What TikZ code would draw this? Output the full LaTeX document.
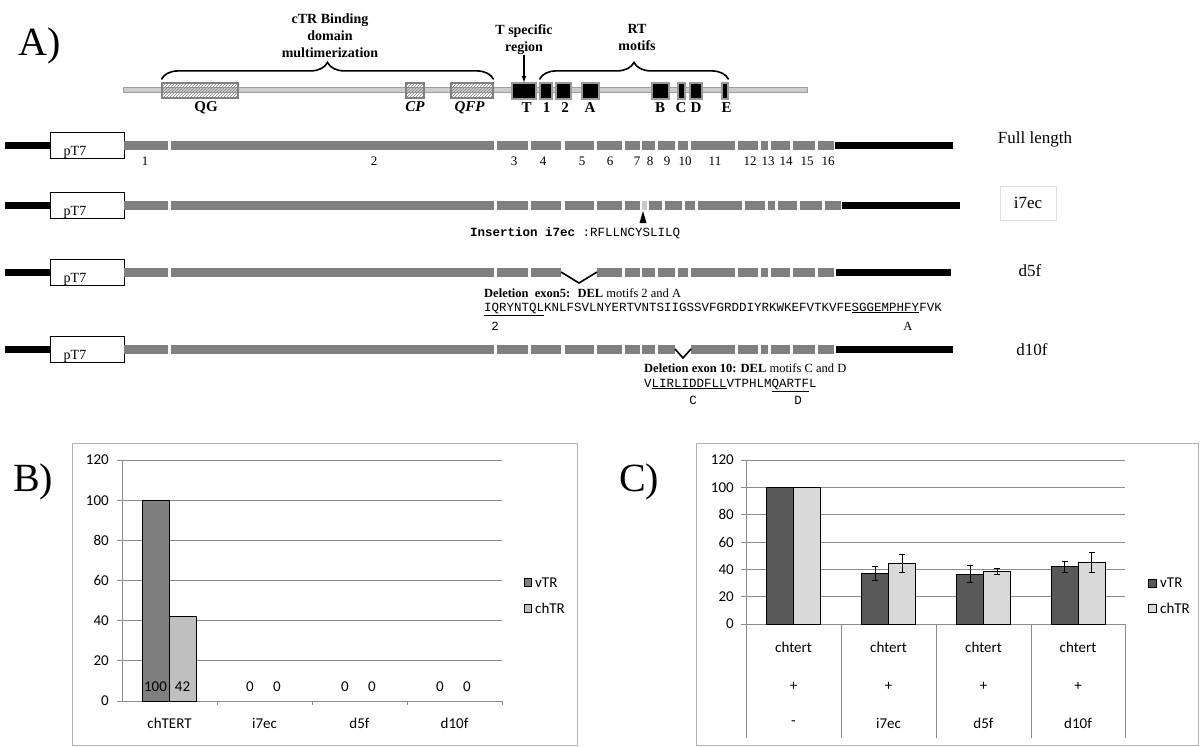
\documentclass[tikz,border=0pt]{standalone}
\usepackage{fontspec}
\setmainfont{Liberation Serif}
\setmonofont{Liberation Mono}
\newfontfamily\chartfont{Carlito}
\usetikzlibrary{patterns,decorations.pathreplacing}

\definecolor{exongray}{RGB}{128,128,128}
\definecolor{insgray}{RGB}{200,200,200}
\definecolor{barmid}{RGB}{127,127,127}
\definecolor{barlight}{RGB}{191,191,191}
\definecolor{bardark}{RGB}{89,89,89}
\definecolor{barpale}{RGB}{217,217,217}
\definecolor{gridgray}{RGB}{140,140,140}

\tikzset{
  hbox/.style={draw=gray, line width=1.2pt, fill=white, pattern=north east lines, pattern color=gray, minimum height=15pt, inner sep=0pt},
  mbox/.style={draw=gray!80, line width=1.2pt, fill=black, minimum height=16pt, inner sep=0pt},
  dlbl/.style={font=\fontsize{15}{17}\selectfont\bfseries, inner sep=0pt, anchor=base},
  toplbl/.style={font=\fontsize{14}{17}\selectfont\bfseries, align=center, inner sep=0pt},
  brc/.style={decorate, decoration={brace, amplitude=17pt}, line width=1.6pt},
  pbox/.style={draw, line width=1pt, fill=white, minimum width=74pt, minimum height=26pt, inner sep=0pt},
  ptxt/.style={font=\fontsize{14}{16}\selectfont, inner sep=0pt, anchor=base},
  exnum/.style={font=\fontsize{13}{15}\selectfont, inner sep=0pt, anchor=base},
  rowlbl/.style={font=\fontsize{17}{20}\selectfont, inner sep=0pt},
  note/.style={font=\fontsize{12.5}{14}\selectfont, inner sep=0pt, anchor=base west},
  seq/.style={font=\fontsize{12.5}{14}\selectfont\ttfamily, inner sep=0pt, anchor=base west},
  vline/.style={line width=1.6pt},
  panel/.style={font=\fontsize{40}{44}\selectfont, inner sep=0pt},
  chart/.style={font=\chartfont\fontsize{15}{17}\selectfont, inner sep=0pt},
  barline/.style={draw=black, line width=1pt},
  errbar/.style={line width=1pt},
  grid/.style={gridgray, line width=1pt}
}

\begin{document}
\begin{tikzpicture}[x=1pt,y=-1pt]
\useasboundingbox (0,0) rectangle (1200,747);

%% A) protein domains
\node[panel] (pa) at (40,46) {A)};
\draw[gray!75, fill=gray!40, line width=0.8pt] (123,87.5) rectangle (807,92.5);
\foreach \nm/\cx/\w in {qg/200/76pt, cp/415/18pt, qfp/472/42pt}
  \node[hbox, minimum width=\w] (\nm) at (\cx,90.5) {};
\foreach \nm/\cx/\w in {mT/524/24pt, m1/546/12pt, m2/563.5/15pt, mA/590.5/17pt, mB/660.5/17pt, mC/681.5/7pt, mD/696/12pt, mE/725/6pt}
  \node[mbox, minimum width=\w] (\nm) at (\cx,91) {};
\node[dlbl] (lqg) at (206,111) {QG};
\node[dlbl] (lcp) at (415,111) {\itshape CP};
\node[dlbl] (lqfp) at (469.5,111) {\itshape QFP};
\foreach \nm/\cx/\t in {lT/526.5/T, l1/546.5/1, l2/565/2, lA/590/A, lB/660/B, lC/681/C, lD/696/D, lE/726.5/E}
  \node[dlbl] (\nm) at (\cx,112) {\t};

\draw[brc] ([yshift=3pt]qg.north west) -- ([yshift=3pt]qfp.north east);
\draw[brc] ([yshift=3pt]m1.north west) -- ([yshift=3pt]mE.north east);
\node[toplbl] (ctr) at (330,36) {cTR Binding\\domain\\multimerization};
\node[toplbl] (rtm) at (637,37.5) {RT\\motifs};
\node[toplbl] (tsr) at (524,40) {T specific\\region};
\draw[->, >=latex, line width=1.2pt] (tsr) -- (mT);

%% constructs
\foreach \y/\ta/\tb/\nm in {145/835/953/full, 205/842/960/ins, 272/836/951/dfive, 349/836/953/dten}{
  \fill (5,\y-3.5) rectangle (50,\y+3.5);
  \node[pbox] (p\nm) at (87,\y) {};
  \node[ptxt] (t\nm) at (75,\y+10) {pT7};
  \fill (\ta,\y-3.5) rectangle (\tb,\y+3.5);
}
% full length
\foreach \a/\b/\n/\t in {124/168/1/145, 171/494/2/374, 497/528/3/514, 531/561/4/543, 565/594/5/582, 597/622/6/610, 625/640/7/637, 642/655/8/650, 658/675/9/667, 678/688/10/685, 691/735/11/715, 738/758/12/750, 761/768/13/768, 771/790/14/786, 793/815/15/807, 818/834/16/828}{
  \fill[exongray] (\a,141) rectangle (\b,150);
  \node[exnum] (ex\n) at (\t,165) {\n};
}
\node[rowlbl, anchor=base] (lfull) at (1035,143) {Full length};

% i7ec
\foreach \a/\b in {124/168, 171/494, 497/528, 531/561, 565/594, 597/622, 625/640, 649/662, 665/682, 685/695, 698/742, 745/765, 768/775, 778/797, 800/822, 825/841}
  \fill[exongray] (\a,200.5) rectangle (\b,209.5);
\fill[insgray] (642,200.5) rectangle (647,209.5);
\fill (643,211) -- (646.5,223) -- (639.5,223) -- cycle;
\node[seq] (ins) at (470,236) {\textbf{Insertion i7ec} :RFLLNCYSLILQ};
\node[rowlbl, draw=gray!25, minimum width=56pt, minimum height=34pt] (lins) at (1028,203) {i7ec};

% d5f
\foreach \a/\b in {124/168, 171/494, 497/528, 531/561, 597/622, 625/640, 642/655, 658/675, 678/688, 691/735, 738/758, 761/768, 771/790, 793/815, 818/834}
  \fill[exongray] (\a,268) rectangle (\b,277);
\draw[vline] (561,272) -- (579,283) -- (597,272);
\node[note] (dfive) at (484,297) {\textbf{Deletion~ exon5:~ DEL} motifs 2 and A};
\node[seq] (sfive) at (484,311) {\underline{IQRYNTQL}KNLFSVLNYERTVNTSIIGSSVFGRDDIYRKWKEFVTKVFE\underline{SGGEMPHFY}FVK};
\node[seq, anchor=base] (m2five) at (495,330) {2};
\node[note, anchor=base] (mAfive) at (908,330) {A};
\node[rowlbl, anchor=base] (ldfive) at (1030,276) {d5f};

% d10f
\foreach \a/\b in {124/168, 171/494, 497/528, 531/561, 565/594, 597/622, 625/640, 642/655, 658/675, 691/735, 738/758, 761/768, 771/790, 793/815, 818/834}
  \fill[exongray] (\a,345) rectangle (\b,354);
\draw[vline] (675,349) -- (683,358) -- (691,349);
\node[note] (dten) at (644,372) {\textbf{Deletion exon 10: DEL} motifs C and D};
\node[seq] (sten) at (644,387) {V\underline{LIRLIDDFLL}VTPHLM\underline{QARTF}L};
\node[seq, anchor=base] (mCten) at (693,404) {C};
\node[seq, anchor=base] (mDten) at (798,404) {D};
\node[rowlbl, anchor=base] (ldten) at (1032,355) {d10f};

%% B) activity
\node[panel] (pb) at (33,482) {B)};
\draw[gray!60, line width=1pt] (72,443) rectangle (577,745);
\begin{scope}[shift={(0,701)}, yscale=-2.008]
  \foreach \v in {20,40,...,120}
    \draw[grid] (122,\v) -- (502,\v);
  \foreach \v in {0,20,...,120}{
    \draw[grid] (117,\v) -- (122,\v);
    \node[chart, anchor=east] (by\v) at (109,\v) {\v};
  }
  \draw[grid] (122,0) -- (122,120);
  \draw[grid] (122,0) -- (502,0);
  \foreach \x in {217,312,407,502}
    \draw[grid] (\x,0) -- (\x,-2);
  \draw[barline, fill=barmid] (142,0) rectangle (169,100);
  \draw[barline, fill=barlight] (169,0) rectangle (196,42);
  \node[chart] (bv1) at (155.5,7) {100};
  \node[chart] (bc1) at (182.5,7) {42};
  \foreach \x/\k in {250/2, 345/3, 440/4}{
    \node[chart] (bv\k) at (\x,7) {0};
    \node[chart] (bc\k) at (\x+27,7) {0};
  }
  \foreach \x/\t/\k in {169.5/chTERT/1, 264.5/i7ec/2, 359.5/d5f/3, 454.5/d10f/4}
    \node[chart] (bcat\k) at (\x,-11) {\t};
\end{scope}
\draw[barline, fill=barmid, line width=0.8pt] (524,578) rectangle (531,586);
\draw[barline, fill=barlight, line width=0.8pt] (524,604) rectangle (531,612);
\node[chart, anchor=west] (blv) at (535,583) {vTR};
\node[chart, anchor=west] (blc) at (535,608) {chTR};

%% C) rescue
\node[panel] (pc) at (639,482) {C)};
\draw[gray!60, line width=1pt] (696,443) rectangle (1198,745);
\begin{scope}[shift={(0,624)}, yscale=-1.3667]
  \foreach \v in {20,40,...,120}
    \draw[grid] (746,\v) -- (1125,\v);
  \foreach \v in {0,20,...,120}{
    \draw[grid] (741,\v) -- (746,\v);
    \node[chart, anchor=east] (cy\v) at (734,\v) {\v};
  }
  \draw[grid] (746,120) -- (746,-83.4);
  \draw[grid] (746,0) -- (1125,0);
  \foreach \x in {841,936,1031,1125}
    \draw[grid] (\x,0) -- (\x,-83.4);
  \draw[barline, fill=bardark] (766,0) rectangle (793,100);
  \draw[barline, fill=barpale] (793,0) rectangle (820,100);
  \foreach \x/\va/\ea/\vb/\eb in {861.5/37/5/44.5/6.5, 956.5/36.5/6/38.3/2, 1051/42/4/45/7}{
    \draw[barline, fill=bardark] (\x,0) rectangle (\x+27,\va);
    \draw[barline, fill=barpale] (\x+27,0) rectangle (\x+54,\vb);
    \draw[errbar] (\x+10.5,\va+\ea) -- (\x+16.5,\va+\ea) (\x+13.5,\va+\ea) -- (\x+13.5,\va-\ea) (\x+10.5,\va-\ea) -- (\x+16.5,\va-\ea);
    \draw[errbar] (\x+37.5,\vb+\eb) -- (\x+43.5,\vb+\eb) (\x+40.5,\vb+\eb) -- (\x+40.5,\vb-\eb) (\x+37.5,\vb-\eb) -- (\x+43.5,\vb-\eb);
  }
  \foreach \x/\t/\k in {793.5/-/1, 888.5/i7ec/2, 983.5/d5f/3, 1078/d10f/4}{
    \node[chart] (ca\k) at (\x,-16.8) {chtert};
    \node[chart] (cb\k) at (\x,-45.4) {+};
    \node[chart] (cc\k) at (\x,-72.4) {\t};
  }
\end{scope}
\draw[barline, fill=bardark, line width=0.8pt] (1148,579) rectangle (1156,587);
\draw[barline, fill=barpale, line width=0.8pt] (1148,604) rectangle (1156,612);
\node[chart, anchor=west] (clv) at (1160,583) {vTR};
\node[chart, anchor=west] (clc) at (1160,608) {chTR};
\end{tikzpicture}
\end{document}
